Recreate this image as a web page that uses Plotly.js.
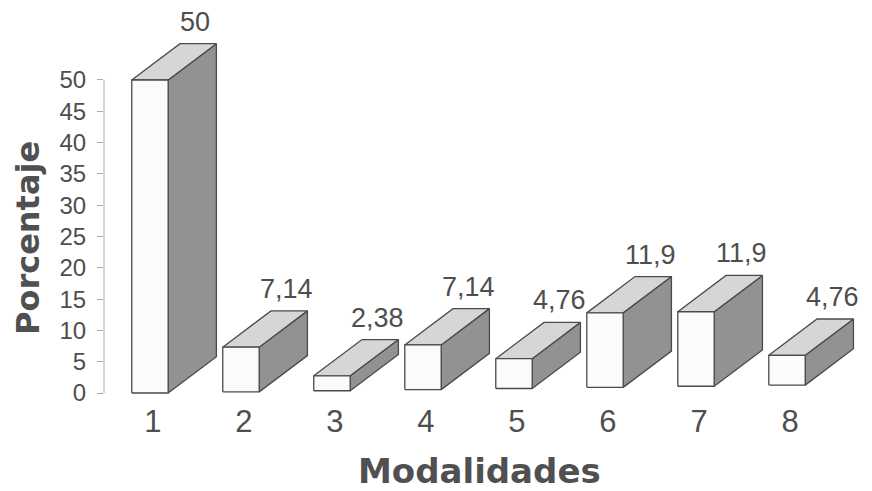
<!DOCTYPE html>
<html>
<head>
<meta charset="utf-8">
<script src="https://cdn.plot.ly/plotly-3.0.1.min.js"></script>
<style>html,body{margin:0;padding:0;background:#fff;}#chart{width:872px;height:491px;}</style>
</head>
<body>
<div id="chart"></div>
<script>
// ---- data ----
var categories = [1, 2, 3, 4, 5, 6, 7, 8];
var categoryLabels = ["1", "2", "3", "4", "5", "6", "7", "8"];
var values = [50, 7.14, 2.38, 7.14, 4.76, 11.9, 11.9, 4.76];
var valueLabels = ["50", "7,14", "2,38", "7,14", "4,76", "11,9", "11,9", "4,76"];
var yTickVals = [0, 5, 10, 15, 20, 25, 30, 35, 40, 45, 50];
var xTitle = "Modalidades";
var yTitle = "Porcentaje";

// ---- 3D look (styling only) ----
var halfW = 0.2;      // half width of front face (x units)
var depthX = 0.53;    // depth offset in x units
var depthY = 5.8;     // depth offset in y units
var slant = 0.18;     // slight perspective rise of baseline per bar
var edge = '#4a4a4a';
var frontCol = '#fbfbfb', topCol = '#d6d6d6', sideCol = '#929292';
var textCol = '#4e4e4e';

var traces = [];
function poly(xs, ys, fill) {
  traces.push({
    type: 'scatter', mode: 'lines', x: xs.concat([xs[0]]), y: ys.concat([ys[0]]),
    fill: 'toself', fillcolor: fill, line: {color: edge, width: 1.3},
    hoverinfo: 'skip', showlegend: false
  });
}
var annotations = [];
categories.forEach(function (c, i) {
  var b = i * slant, t = b + values[i];
  var xl = c - halfW, xr = c + halfW;
  // side face
  poly([xr, xr, xr + depthX, xr + depthX], [b, t, t + depthY, b + depthY], sideCol);
  // top face
  poly([xl, xr, xr + depthX, xl + depthX], [t, t, t + depthY, t + depthY], topCol);
  // front face
  poly([xl, xr, xr, xl], [b, b, t, t], frontCol);
  annotations.push({
    x: c + depthX, y: t + depthY, xref: 'x', yref: 'y', text: valueLabels[i],
    showarrow: false, yshift: 22, xshift: -3, xanchor: 'center', yanchor: 'middle',
    font: {family: 'Liberation Sans, Arial, sans-serif', size: 27, color: textCol}
  });
});

annotations.push({
  xref: 'paper', yref: 'paper', x: -0.1, y: 0.415, text: '<b>' + yTitle + '</b>',
  textangle: -90, showarrow: false, xanchor: 'center', yanchor: 'middle',
  font: {family: 'DejaVu Sans, sans-serif', size: 32, color: '#505050'}
});
annotations.push({
  xref: 'paper', yref: 'paper', x: 0.494, y: -0.181, text: '<b>' + xTitle + '</b>',
  showarrow: false, xanchor: 'center', yanchor: 'middle',
  font: {family: 'DejaVu Sans, sans-serif', size: 34, color: '#505050'}
});

var layout = {
  width: 872, height: 491,
  margin: {l: 104, r: 7, t: 10, b: 91},
  paper_bgcolor: '#fff', plot_bgcolor: '#fff',
  showlegend: false,
  xaxis: {
    range: [0.495, 8.857], tickvals: categories, ticktext: categoryLabels,
    showgrid: false, zeroline: false, showline: false, ticks: '',
    tickfont: {family: 'Liberation Sans, Arial, sans-serif', size: 31, color: textCol},
    ticklabelstandoff: 0, ticklabelshift: 3,
    fixedrange: true
  },
  yaxis: {
    range: [-1.118, 61.18], tickvals: yTickVals, ticktext: yTickVals.map(String),
    showgrid: false, zeroline: false, showline: false,
    ticks: 'outside', ticklen: 6, tickcolor: '#aaa', tickwidth: 1,
    ticklabelstandoff: 6,
    tickfont: {family: 'Liberation Sans, Arial, sans-serif', size: 24, color: textCol},
    fixedrange: true
  },
  shapes: [{type: 'line', xref: 'paper', yref: 'y', x0: 0, x1: 0, y0: 0, y1: 50,
    line: {color: '#aaa', width: 1}}],
  annotations: annotations
};
Plotly.newPlot('chart', traces, layout, {displayModeBar: false, staticPlot: true});
</script>
</body>
</html>
